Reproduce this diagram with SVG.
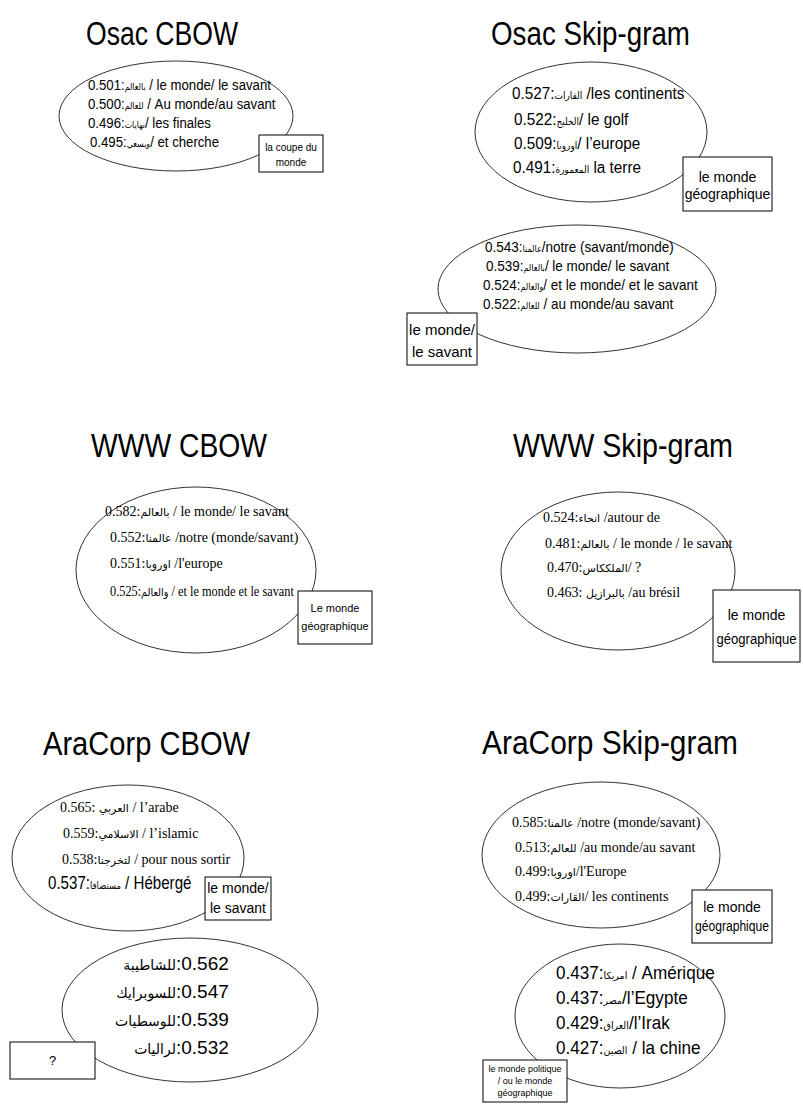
<svg xmlns="http://www.w3.org/2000/svg" width="803" height="1104" viewBox="0 0 803 1104">
<style>
.t{font-family:"Liberation Sans",Arial,sans-serif;font-size:33px;fill:#000}
.s{font-family:"Liberation Sans",Arial,sans-serif;fill:#000}
.r{font-family:"Liberation Serif","Times New Roman",serif;fill:#000;font-size:14px}
.ar{font-family:"DejaVu Sans",sans-serif}
.r .ar{font-size:11px}
.el{fill:none;stroke:#333;stroke-width:1}
.bx{fill:#fff;stroke:#000;stroke-width:1}
.c{text-anchor:middle}
</style>
<rect width="803" height="1104" fill="#fff"/>

<g id="title-osac-cbow"><text class="t" x="86" y="45" textLength="152" lengthAdjust="spacingAndGlyphs">Osac CBOW</text></g>
<g id="title-osac-skip"><text class="t" x="491" y="45" textLength="199" lengthAdjust="spacingAndGlyphs">Osac Skip-gram</text></g>
<g id="title-www-cbow"><text class="t" x="91" y="457" textLength="176" lengthAdjust="spacingAndGlyphs">WWW CBOW</text></g>
<g id="title-www-skip"><text class="t" x="513" y="457" textLength="220" lengthAdjust="spacingAndGlyphs">WWW Skip-gram</text></g>
<g id="title-aracorp-cbow"><text class="t" x="43" y="755" textLength="207" lengthAdjust="spacingAndGlyphs">AraCorp CBOW</text></g>
<g id="title-aracorp-skip"><text class="t" x="482" y="754" textLength="256" lengthAdjust="spacingAndGlyphs">AraCorp Skip-gram</text></g>

<g id="osac-cbow">
<ellipse class="el" cx="176" cy="116" rx="117" ry="55"/>
<text class="s" font-size="15" transform="translate(88 90) scale(.88 1)">0.501:<tspan class="ar" font-size="9">بالعالم</tspan> / le monde/ le savant</text>
<text class="s" font-size="15" transform="translate(88 109) scale(.88 1)">0.500:<tspan class="ar" font-size="9">للعالم</tspan> / Au monde/au savant</text>
<text class="s" font-size="15" transform="translate(88 128) scale(.88 1)">0.496:<tspan class="ar" font-size="9">نهايات</tspan>/ les finales</text>
<text class="s" font-size="15" transform="translate(90 147) scale(.88 1)">0.495:<tspan class="ar" font-size="9">ويسعي</tspan>/ et cherche</text>
</g>
<g id="box-coupe">
<rect class="bx" x="259" y="135" width="64" height="37"/>
<text class="s c" font-size="10" x="291" y="151">la coupe du</text>
<text class="s c" font-size="10" x="291" y="166">monde</text>
</g>

<g id="osac-skip-1">
<ellipse class="el" cx="591" cy="132" rx="116" ry="70"/>
<text class="s" font-size="17" transform="translate(512 99) scale(.9 1)">0.527:<tspan class="ar" font-size="10">القارات</tspan> /les continents</text>
<text class="s" font-size="17" transform="translate(514 125) scale(.9 1)">0.522:<tspan class="ar" font-size="10">الخليج</tspan>/ le golf</text>
<text class="s" font-size="17" transform="translate(514 149) scale(.9 1)">0.509:<tspan class="ar" font-size="10">اوروبا</tspan>/ l’europe</text>
<text class="s" font-size="17" transform="translate(513 173) scale(.9 1)">0.491:<tspan class="ar" font-size="10">المعمورة</tspan> la terre</text>
</g>
<g id="box-geo-1">
<rect class="bx" x="683" y="157" width="89" height="54"/>
<text class="s c" font-size="14" x="727.5" y="182">le monde</text>
<text class="s c" font-size="14" x="727.5" y="199">géographique</text>
</g>

<g id="osac-skip-2">
<ellipse class="el" cx="577" cy="289" rx="139" ry="64"/>
<text class="s" font-size="15" transform="translate(485 252) scale(.9 1)">0.543:<tspan class="ar" font-size="9">عالمنا</tspan>/notre (savant/monde)</text>
<text class="s" font-size="15" transform="translate(486 271) scale(.9 1)">0.539:<tspan class="ar" font-size="9">بالعالم</tspan>/ le monde/ le savant</text>
<text class="s" font-size="15" transform="translate(483 290) scale(.9 1)">0.524:<tspan class="ar" font-size="9">والعالم</tspan>/ et le monde/ et le savant</text>
<text class="s" font-size="15" transform="translate(483 309) scale(.9 1)">0.522:<tspan class="ar" font-size="9">للعالم</tspan> / au monde/au savant</text>
</g>
<g id="box-savant-1">
<rect class="bx" x="407" y="313" width="70" height="52"/>
<text class="s c" font-size="15" x="442" y="335">le monde/</text>
<text class="s c" font-size="15" x="442" y="357">le savant</text>
</g>

<g id="www-cbow">
<ellipse class="el" cx="196" cy="570" rx="120" ry="83"/>
<text class="r" x="105" y="516">0.582:<tspan class="ar">بالعالم</tspan> / le monde/ le savant</text>
<text class="r" x="110" y="542">0.552:<tspan class="ar">عالمنا</tspan> /notre (monde/savant)</text>
<text class="r" x="110" y="568">0.551:<tspan class="ar">اوروبا</tspan> /l'europe</text>
<text class="r" transform="translate(110 596) scale(.88 1)">0.525:<tspan class="ar">والعالم</tspan> / et le monde et le savant</text>
</g>
<g id="box-geo-2">
<rect class="bx" x="298" y="591" width="74" height="53"/>
<text class="s c" font-size="11" x="335" y="612">Le monde</text>
<text class="s c" font-size="11" x="335" y="630">géographique</text>
</g>

<g id="www-skip">
<ellipse class="el" cx="618" cy="571" rx="117" ry="79"/>
<text class="r" x="543" y="522">0.524:<tspan class="ar">انحاء</tspan> /autour de</text>
<text class="r" x="545" y="548">0.481:<tspan class="ar">بالعالم</tspan> / le monde / le savant</text>
<text class="r" x="547" y="572">0.470:<tspan class="ar">الملككاس</tspan>/ ?</text>
<text class="r" x="547" y="597">0.463: <tspan class="ar">بالبرازيل</tspan> /au brésil</text>
</g>
<g id="box-geo-3">
<rect class="bx" x="713" y="590" width="87" height="72"/>
<text class="s c" font-size="14" x="756.5" y="620">le monde</text>
<text class="s c" font-size="14" x="756.5" y="644" textLength="80" lengthAdjust="spacingAndGlyphs">géographique</text>
</g>

<g id="aracorp-cbow-1">
<ellipse class="el" cx="128" cy="858" rx="116" ry="73"/>
<text class="r" font-size="15" x="60" y="812">0.565: <tspan class="ar">العربي</tspan> / l’arabe</text>
<text class="r" font-size="15" x="63" y="838">0.559:<tspan class="ar">الاسلامي</tspan> / l’islamic</text>
<text class="r" font-size="15" x="62" y="864">0.538:<tspan class="ar">لتخرجنا</tspan> / pour nous sortir</text>
<text class="s" font-size="18" transform="translate(48 889) scale(.84 1)">0.537:<tspan class="ar" font-size="10">مستضافا</tspan> / Hébergé</text>
</g>
<g id="box-savant-2">
<rect class="bx" x="205" y="877" width="66" height="43"/>
<text class="s c" font-size="14" x="238" y="893">le monde/</text>
<text class="s c" font-size="14" x="238" y="913">le savant</text>
</g>

<g id="aracorp-cbow-2">
<ellipse class="el" cx="190" cy="1010" rx="128" ry="72"/>
<text class="s" font-size="14" x="176" y="970" text-anchor="end"><tspan class="ar">للشاطيبة</tspan></text>
<text class="s" font-size="19" x="176" y="970">:0.562</text>
<text class="s" font-size="14" x="176" y="998" text-anchor="end"><tspan class="ar">للسوبرايك</tspan></text>
<text class="s" font-size="19" x="176" y="998">:0.547</text>
<text class="s" font-size="14" x="176" y="1026" text-anchor="end"><tspan class="ar">للوسطيات</tspan></text>
<text class="s" font-size="19" x="176" y="1026">:0.539</text>
<text class="s" font-size="14" x="176" y="1054" text-anchor="end"><tspan class="ar">لراليات</tspan></text>
<text class="s" font-size="19" x="176" y="1054">:0.532</text>
</g>
<g id="box-question">
<rect class="bx" x="10" y="1042" width="85" height="37"/>
<text class="s c" font-size="13" x="52.5" y="1065">?</text>
</g>

<g id="aracorp-skip-1">
<ellipse class="el" cx="601" cy="855" rx="119" ry="73"/>
<text class="r" x="512" y="827">0.585:<tspan class="ar">عالمنا</tspan> /notre (monde/savant)</text>
<text class="r" x="515" y="852">0.513:<tspan class="ar">للعالم</tspan> /au monde/au savant</text>
<text class="r" x="515" y="876">0.499:<tspan class="ar">اوروبا</tspan>/l'Europe</text>
<text class="r" x="515" y="901">0.499:<tspan class="ar">القارات</tspan>/ les continents</text>
</g>
<g id="box-geo-4">
<rect class="bx" x="692" y="890" width="80" height="53"/>
<text class="s c" font-size="14" x="732" y="912">le monde</text>
<text class="s c" font-size="14" x="732" y="931" textLength="74" lengthAdjust="spacingAndGlyphs">géographique</text>
</g>

<g id="aracorp-skip-2">
<ellipse class="el" cx="620" cy="1016" rx="105" ry="72"/>
<text class="s" font-size="18" transform="translate(556 979) scale(.95 1)">0.437:<tspan class="ar" font-size="10">امريكا</tspan> / Amérique</text>
<text class="s" font-size="18" transform="translate(556 1004) scale(.95 1)">0.437:<tspan class="ar" font-size="10">مصر</tspan>/l’Egypte</text>
<text class="s" font-size="18" transform="translate(556 1029) scale(.95 1)">0.429:<tspan class="ar" font-size="10">العراق</tspan>/l’Irak</text>
<text class="s" font-size="18" transform="translate(556 1054) scale(.95 1)">0.427:<tspan class="ar" font-size="10">الصين</tspan> / la chine</text>
</g>
<g id="box-politique">
<rect class="bx" x="483" y="1060" width="84" height="42"/>
<text class="s c" font-size="9" x="525" y="1072">le monde politique</text>
<text class="s c" font-size="9" x="525" y="1084">/ ou le monde</text>
<text class="s c" font-size="9" x="525" y="1096">géographique</text>
</g>
</svg>
